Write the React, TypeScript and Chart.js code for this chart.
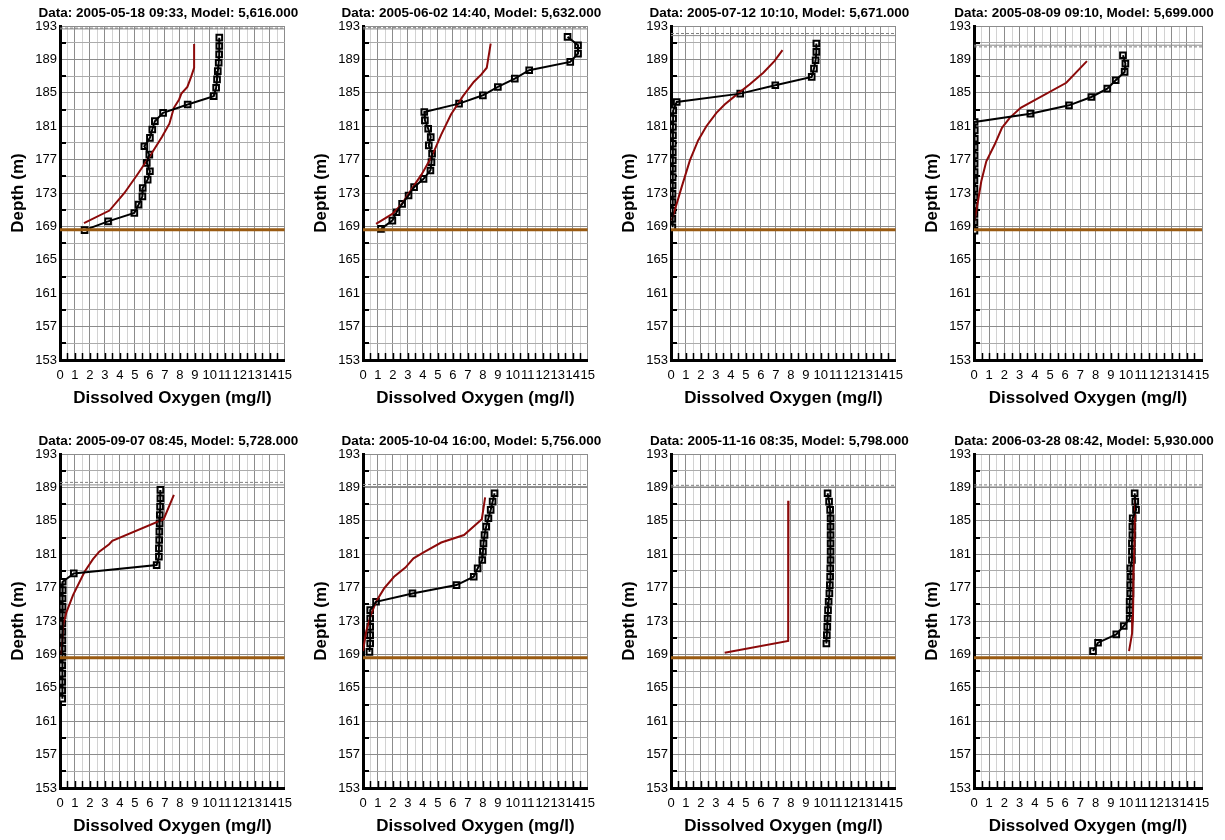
import React, { useEffect, useRef } from "react";
import { Chart, registerables } from "chart.js";

Chart.register(...registerables);

// Each profile point is [dissolved oxygen (mg/l), elevation (m)]
type Profile = [number, number][];

const FONT = "Arial, 'Liberation Sans', Helvetica, sans-serif";
Chart.defaults.font.family = FONT;
Chart.defaults.color = "#000";

// Axis ranges and tick spacing
const X_MIN = 0;
const X_MAX = 15;
const X_STEP = 0.5;
const Y_MIN = 153;
const Y_MAX = 193;
const Y_STEP = 2;
const Y_LABEL_STEP = 4;

// Reservoir bed elevation
const BED_LEVEL = 168.6;

const titles = [
  "Data: 2005-05-18 09:33, Model: 5,616.000",
  "Data: 2005-06-02 14:40, Model: 5,632.000",
  "Data: 2005-07-12 10:10, Model: 5,671.000",
  "Data: 2005-08-09 09:10, Model: 5,699.000",
  "Data: 2005-09-07 08:45, Model: 5,728.000",
  "Data: 2005-10-04 16:00, Model: 5,756.000",
  "Data: 2005-11-16 08:35, Model: 5,798.000",
  "Data: 2006-03-28 08:42, Model: 5,930.000",
];

// Measured profiles
const obs0518: Profile = [
  [10.63, 191.6], [10.63, 190.6], [10.62, 189.6], [10.59, 188.6], [10.53, 187.6],
  [10.48, 186.6], [10.42, 185.6], [10.26, 184.6], [8.52, 183.6], [6.88, 182.6],
  [6.33, 181.6], [6.16, 180.6], [6.0, 179.6], [5.63, 178.6], [5.96, 177.6],
  [5.79, 176.6], [6.0, 175.6], [5.85, 174.6], [5.52, 173.6], [5.5, 172.6],
  [5.24, 171.6], [4.96, 170.6], [3.21, 169.6], [1.64, 168.55],
];
const obs0602: Profile = [
  [13.65, 191.7], [14.35, 190.7], [14.35, 189.7], [13.83, 188.7], [11.09, 187.7],
  [10.13, 186.7], [9.0, 185.7], [8.0, 184.7], [6.41, 183.7], [4.09, 182.7],
  [4.13, 181.7], [4.35, 180.7], [4.52, 179.7], [4.39, 178.7], [4.61, 177.7],
  [4.57, 176.7], [4.5, 175.7], [4.04, 174.7], [3.41, 173.7], [3.04, 172.7],
  [2.61, 171.7], [2.24, 170.7], [1.96, 169.7], [1.2, 168.7],
];
const obs0712: Profile = [
  [9.7, 190.9], [9.7, 189.9], [9.65, 188.9], [9.54, 187.9], [9.39, 186.9],
  [6.96, 185.9], [4.62, 184.9], [0.38, 183.9], [0.15, 182.9], [0.14, 181.9],
  [0.13, 180.9], [0.13, 179.9], [0.12, 178.9], [0.12, 177.9], [0.12, 176.9],
  [0.11, 175.9], [0.11, 174.9], [0.11, 173.9], [0.1, 172.9], [0.1, 171.9],
  [0.1, 170.9], [0.09, 169.9], [0.09, 168.9],
];
const obs0809: Profile = [
  [9.8, 189.5], [9.96, 188.5], [9.91, 187.5], [9.32, 186.5], [8.77, 185.5],
  [7.72, 184.5], [6.25, 183.5], [3.71, 182.5], [0.04, 181.5], [0.05, 180.5],
  [0.05, 179.5], [0.04, 178.5], [0.04, 177.5], [0.04, 176.5], [0.04, 175.5],
  [0.03, 174.5], [0.03, 173.5], [0.03, 172.5], [0.03, 171.5], [0.03, 170.5],
  [0.03, 169.5], [0.03, 168.5],
];
const obs0907: Profile = [
  [6.7, 188.7], [6.7, 187.7], [6.68, 186.7], [6.66, 185.7], [6.65, 184.7],
  [6.63, 183.7], [6.62, 182.7], [6.6, 181.7], [6.6, 180.7], [6.45, 179.7],
  [0.92, 178.7], [0.18, 177.7], [0.18, 176.7], [0.17, 175.7], [0.17, 174.7],
  [0.17, 173.7], [0.16, 172.7], [0.16, 171.7], [0.16, 170.7], [0.16, 169.7],
  [0.16, 168.7], [0.15, 167.7], [0.15, 166.7], [0.15, 165.7], [0.15, 164.7],
  [0.15, 163.7],
];
const obs1004: Profile = [
  [8.78, 188.3], [8.65, 187.3], [8.52, 186.3], [8.37, 185.3], [8.22, 184.3],
  [8.11, 183.3], [8.04, 182.3], [8.0, 181.3], [7.96, 180.3], [7.65, 179.3],
  [7.39, 178.3], [6.24, 177.3], [3.3, 176.3], [0.87, 175.3], [0.48, 174.3],
  [0.48, 173.3], [0.48, 172.3], [0.48, 171.3], [0.48, 170.3], [0.43, 169.3],
];
const obs1116: Profile = [
  [10.45, 188.3], [10.55, 187.3], [10.62, 186.3], [10.65, 185.3], [10.65, 184.3],
  [10.65, 183.3], [10.65, 182.3], [10.65, 181.3], [10.65, 180.3], [10.63, 179.3],
  [10.62, 178.3], [10.6, 177.3], [10.57, 176.3], [10.52, 175.3], [10.48, 174.3],
  [10.45, 173.3], [10.43, 172.3], [10.4, 171.3], [10.37, 170.3],
];
const obs0328: Profile = [
  [10.57, 188.3], [10.61, 187.3], [10.66, 186.3], [10.44, 185.3], [10.42, 184.3],
  [10.42, 183.3], [10.39, 182.3], [10.39, 181.3], [10.39, 180.3], [10.29, 179.3],
  [10.31, 178.3], [10.29, 177.3], [10.29, 176.3], [10.24, 175.3], [10.24, 174.3],
  [10.24, 173.3], [9.85, 172.4], [9.36, 171.4], [8.16, 170.4], [7.83, 169.4],
];

// Simulated profiles
const sim5616: Profile = [
  [8.95, 190.85], [8.95, 188.0], [8.75, 186.9], [8.5, 185.7], [8.1, 184.9],
  [7.95, 184.2], [7.6, 183.2], [7.3, 181.3], [6.8, 179.7], [6.1, 177.7],
  [5.2, 175.3], [4.3, 173.0], [3.3, 170.9], [1.6, 169.4],
];
const sim5632: Profile = [
  [8.52, 190.9], [8.26, 188.0], [7.9, 187.2], [7.39, 186.3], [6.67, 184.6],
  [5.87, 182.4], [5.22, 180.0], [4.57, 177.3], [3.9, 175.2], [3.48, 174.1],
  [2.6, 171.7], [1.96, 170.5], [0.87, 169.3],
];
const sim5671: Profile = [
  [7.44, 190.1], [6.9, 188.8], [6.16, 187.4], [5.24, 186.0], [4.46, 184.9],
  [3.58, 183.6], [3.03, 182.6], [2.36, 181.0], [1.81, 179.3], [1.26, 176.9],
  [0.71, 173.7], [0.31, 171.3], [0.04, 169.7],
];
const sim5699: Profile = [
  [7.43, 188.8], [6.07, 186.2], [3.07, 183.2], [2.35, 182.0], [1.84, 180.8],
  [1.36, 178.8], [0.81, 176.8], [0.48, 174.4], [0.26, 172.0], [0.04, 169.7],
];
const sim5728: Profile = [
  [7.6, 188.1], [6.92, 185.2], [3.49, 182.6], [3.28, 182.2], [2.62, 181.3],
  [2.2, 180.4], [1.64, 178.9], [0.87, 176.1], [0.44, 174.1], [0.22, 172.6],
  [0.11, 169.0],
];
const sim5756: Profile = [
  [8.15, 187.8], [7.93, 185.2], [6.74, 183.3], [5.22, 182.4], [4.13, 181.3],
  [3.37, 180.5], [2.83, 179.4], [2.07, 178.3], [1.41, 176.9], [0.87, 175.3],
  [0.54, 173.8], [0.22, 171.8], [0.0, 169.4],
];
const sim5798: Profile = [
  [7.84, 187.4], [7.82, 170.6], [3.58, 169.2],
];
const sim5930: Profile = [
  [10.6, 187.8], [10.58, 185.0], [10.55, 182.0], [10.5, 179.0], [10.48, 176.0],
  [10.46, 173.5], [10.4, 171.5], [10.2, 169.4],
];

// Water surface elevations (simulated dashed, measured solid)
const surfaceModel = [192.75, 192.8, 192.1, 190.5, 189.6, 189.35, 189.25, 189.3];
const surfaceData = [192.65, 192.65, 191.85, 190.7, 189.3, 189.1, 189.05, 189.05];

const observed = [obs0518, obs0602, obs0712, obs0809, obs0907, obs1004, obs1116, obs0328];
const simulated = [sim5616, sim5632, sim5671, sim5699, sim5728, sim5756, sim5798, sim5930];

// Page layout of the 4 x 2 panel grid
const COL_LEFT = [0, 303, 611, 914];
const COL_WIDTH = [300, 300, 300, 306];
const PLOT_RIGHT = [289, 593, 897, 1202];
const ROW_TOP = [0, 428];
const PANEL_HEIGHT = 410;

const isWhole = (v: number) => Math.abs(v - Math.round(v)) < 1e-6;

// Draws the inward axis ticks and the panel heading
const panelDecor = {
  id: "panelDecor",
  beforeDatasetsDraw(chart: any) {
    const { ctx, chartArea: a, scales } = chart;
    const x = scales.x;
    const y = scales.y;
    ctx.save();
    ctx.strokeStyle = "#000";
    ctx.lineWidth = 2;
    for (let d = Y_MIN + Y_STEP; d < Y_MAX; d += Y_LABEL_STEP) {
      const py = Math.round(y.getPixelForValue(d));
      ctx.beginPath();
      ctx.moveTo(a.left, py);
      ctx.lineTo(a.left + 6, py);
      ctx.stroke();
    }
    ctx.lineWidth = 1.5;
    for (let v = X_MIN + X_STEP; v < X_MAX - 1e-6; v += X_STEP) {
      const px = Math.round(x.getPixelForValue(v)) + 0.5;
      ctx.beginPath();
      ctx.moveTo(px, a.bottom);
      ctx.lineTo(px, a.bottom - 7);
      ctx.stroke();
    }
    ctx.restore();
  },
  afterDraw(chart: any, _args: any, opts: any) {
    const { ctx, chartArea: a } = chart;
    ctx.save();
    ctx.fillStyle = "#000";
    ctx.font = `bold 13.5px ${FONT}`;
    ctx.textAlign = "center";
    ctx.textBaseline = "middle";
    ctx.fillText(opts.text, (a.left + a.right) / 2 - 4, a.top - 13);
    ctx.restore();
  },
};

function Panel({ idx }: { idx: number }) {
  const ref = useRef<HTMLCanvasElement>(null);
  const col = idx % 4;
  const row = Math.floor(idx / 4);
  const left = COL_LEFT[col];
  const width = COL_WIDTH[col];
  const top = ROW_TOP[row];
  const padRight = left + width - PLOT_RIGHT[col];

  useEffect(() => {
    if (!ref.current) return;
    const toXY = (p: Profile) => p.map(([x, y]) => ({ x, y }));
    const level = (lvl: number): Profile => [[X_MIN, lvl], [X_MAX, lvl]];
    const line = (p: Profile, extra: any) => ({
      data: toXY(p),
      showLine: true,
      pointRadius: 0,
      fill: false,
      ...extra,
    });

    const chart = new Chart(ref.current, {
      type: "scatter",
      data: {
        datasets: [
          line(level(BED_LEVEL), { borderColor: "#9a5b12", borderWidth: 3 }),
          line(level(surfaceModel[idx]), { borderColor: "#808080", borderWidth: 1, borderDash: [3, 2] }),
          line(level(surfaceData[idx]), { borderColor: "#8a8a8a", borderWidth: 1 }),
          line(observed[idx], { borderColor: "#000", borderWidth: 2 }),
          line(simulated[idx], { borderColor: "#8c0a0a", borderWidth: 2 }),
          {
            data: toXY(observed[idx]),
            showLine: false,
            pointStyle: "rect",
            pointRadius: 4,
            pointBorderWidth: 2,
            pointBorderColor: "#000",
            pointBackgroundColor: "#fff",
          },
        ],
      } as any,
      options: {
        responsive: false,
        animation: false,
        events: [],
        layout: { padding: { top: 26, right: padRight, bottom: 0, left: 0 } },
        elements: { line: { tension: 0 } },
        plugins: {
          legend: { display: false },
          tooltip: { enabled: false },
          title: { display: false },
          panelDecor: { text: titles[idx] },
        } as any,
        scales: {
          x: {
            type: "linear",
            position: "bottom",
            min: X_MIN,
            max: X_MAX,
            afterFit: (s: any) => {
              s.height = 50;
            },
            ticks: {
              stepSize: X_STEP,
              autoSkip: false,
              maxRotation: 0,
              minRotation: 0,
              padding: 8,
              color: "#000",
              font: { size: 13 },
              callback: (v: any) => (isWhole(Number(v)) ? String(Math.round(Number(v))) : ""),
            },
            grid: {
              drawTicks: false,
              lineWidth: 1,
              color: (c: any) => (c.tick && isWhole(c.tick.value) ? "#8c8c8c" : "#d2d2d2"),
            },
            border: { color: "#000", width: 3 },
            title: {
              display: true,
              text: "Dissolved Oxygen (mg/l)",
              color: "#000",
              font: { size: 17, weight: "bold" },
              padding: { top: 0, bottom: 1.8 },
            },
          },
          y: {
            type: "linear",
            min: Y_MIN,
            max: Y_MAX,
            afterFit: (s: any) => {
              s.width = 60;
            },
            ticks: {
              stepSize: Y_STEP,
              autoSkip: false,
              padding: 3,
              color: "#000",
              font: { size: 13 },
              callback: (v: any) =>
                isWhole((Number(v) - Y_MIN) / Y_LABEL_STEP) ? String(Math.round(Number(v))) : "",
            },
            grid: {
              drawTicks: false,
              lineWidth: 1,
              color: (c: any) =>
                c.tick && isWhole((c.tick.value - Y_MIN) / Y_LABEL_STEP) ? "#8c8c8c" : "#ababab",
            },
            border: { color: "#000", width: 3 },
            title: {
              display: true,
              text: "Depth (m)",
              color: "#000",
              font: { size: 17, weight: "bold" },
              padding: { top: 7.8, bottom: 0 },
            },
          },
        } as any,
      },
      plugins: [panelDecor as any],
    });
    return () => chart.destroy();
  }, [idx, padRight]);

  return (
    <canvas
      ref={ref}
      width={width}
      height={PANEL_HEIGHT}
      style={{ position: "absolute", left, top, width, height: PANEL_HEIGHT }}
    />
  );
}

export default function App() {
  return (
    <div
      style={{
        position: "absolute",
        left: 0,
        top: 0,
        width: 1225,
        height: 840,
        background: "#fff",
        overflow: "hidden",
      }}
    >
      {titles.map((_, i) => (
        <Panel key={i} idx={i} />
      ))}
    </div>
  );
}
